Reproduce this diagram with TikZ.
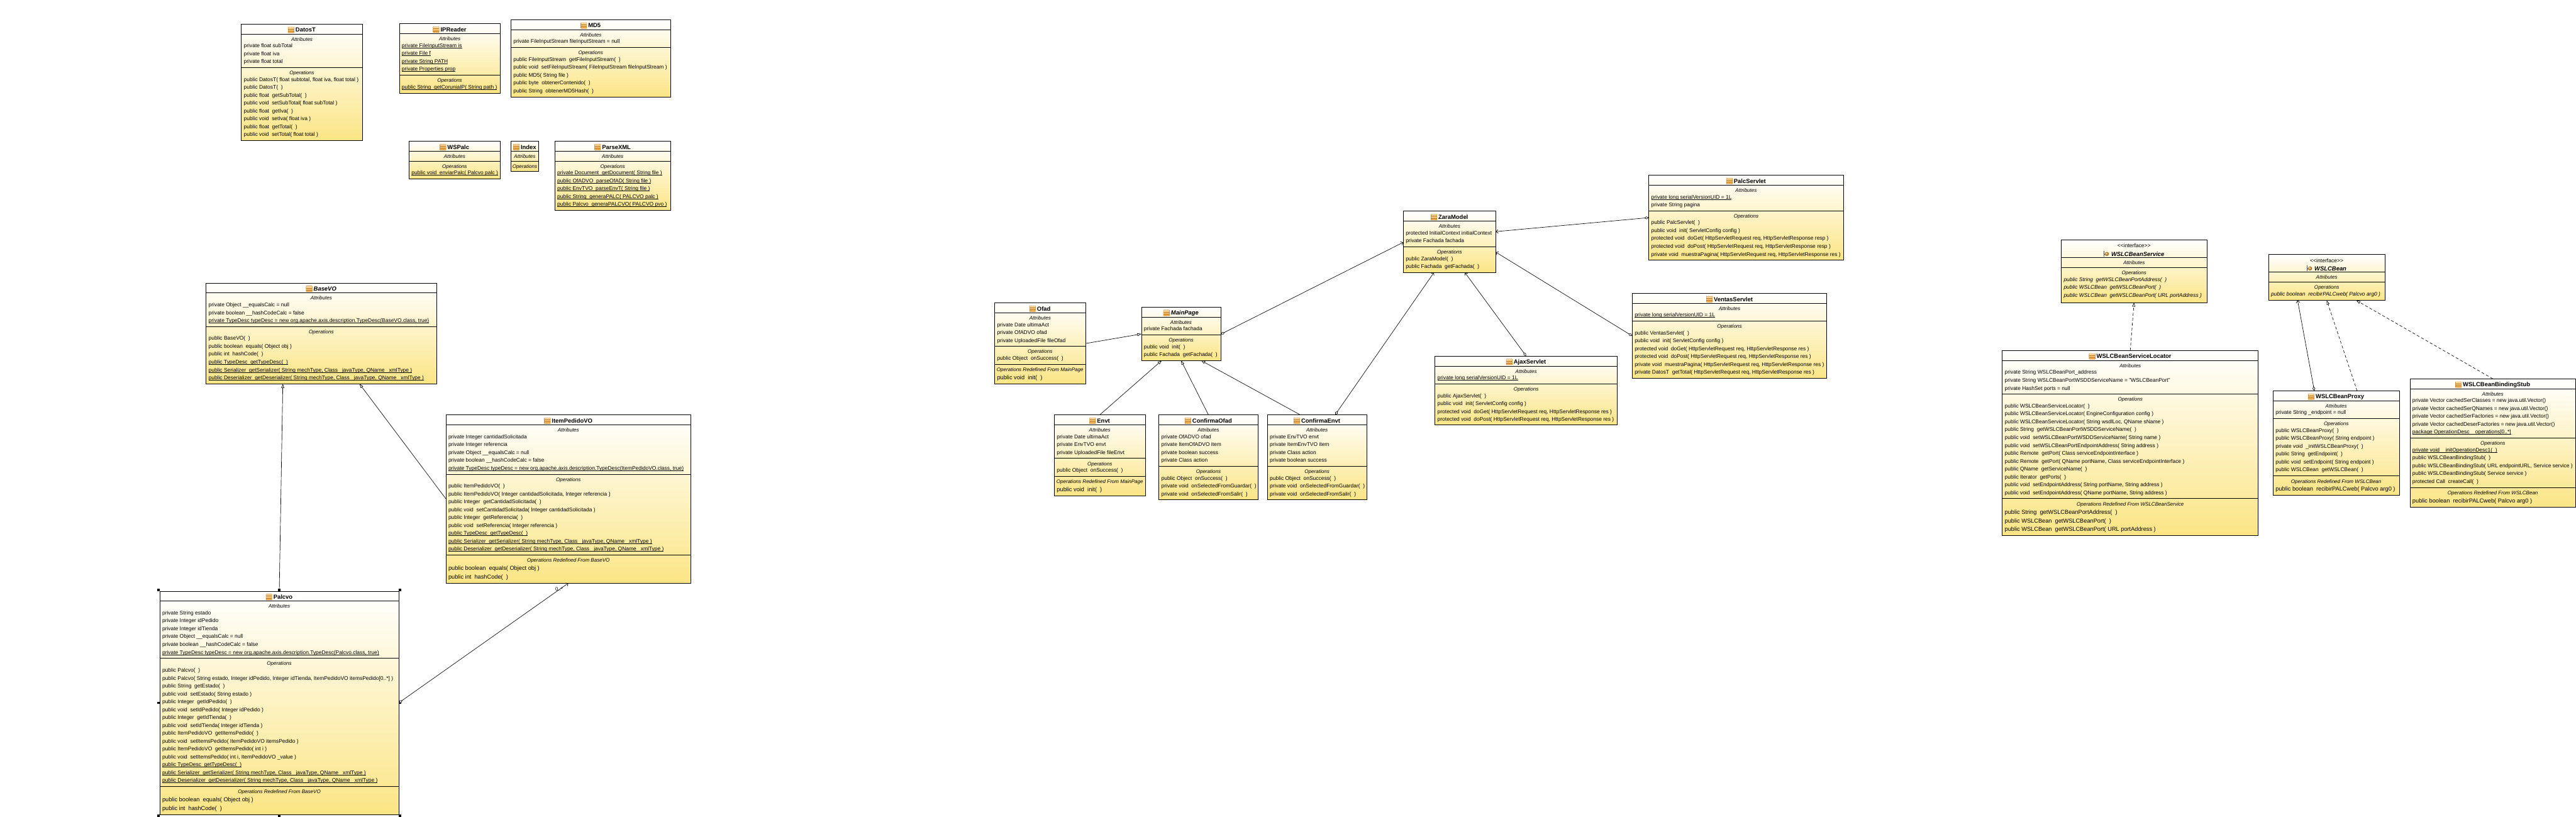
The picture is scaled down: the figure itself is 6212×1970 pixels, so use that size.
\documentclass[tikz,border=0pt]{standalone}
\usepackage{fontspec}
\setmainfont{Liberation Sans}
\usetikzlibrary{arrows.meta,calc}
\definecolor{clsbot}{HTML}{FBE585}
\definecolor{icotop}{HTML}{FCDDA8}
\definecolor{icobot}{HTML}{EFA23A}
\definecolor{icoln}{HTML}{B87A20}
\newcounter{tc}
\newcommand\ult[1]{\sbox0{#1}\rlap{\usebox0}\rule[-1.7pt]{\wd0}{0.9pt}}
\tikzset{
  classbox/.style={rectangle,draw=black,line width=1pt,top color=white,bottom color=clsbot,inner sep=0pt,outer sep=0pt},
  sepline/.style={draw=black,line width=1pt},
  titletext/.style={anchor=base,inner sep=0pt,outer sep=0pt,text height=10pt,text depth=0pt,font=\fontsize{14.3}{16}\selectfont\bfseries},
  labeltext/.style={anchor=base,inner sep=0pt,outer sep=0pt,font=\fontsize{12.2}{14}\selectfont\itshape},
  rowtext/.style={anchor=base west,inner sep=0pt,outer sep=0pt,font=\fontsize{12.8}{14}\selectfont},
  rowbig/.style={anchor=base west,inner sep=0pt,outer sep=0pt,font=\fontsize{14}{16}\selectfont},
  conn/.style={draw=black,line width=1pt},
  inh/.style={conn,-{Triangle[open,fill=white,length=10pt,width=7pt]}},
  aggr/.style={conn,{Diamond[open,fill=white,length=11pt,width=6.5pt]}-{Straight Barb[length=5pt,width=9pt]}},
  real/.style={conn,dash pattern=on 7pt off 5pt,-{Triangle[open,fill=white,length=10pt,width=7pt]}},
  handle/.style={rectangle,fill=black,inner sep=0pt,outer sep=0pt,minimum size=5.5pt}
}
\newcommand\umlclass[5]{%
  \node[classbox,minimum width=#4pt-#2pt,minimum height=#5pt-#3pt,anchor=north west] (#1) at (#2,#3) {};
  \def\xa{#2}\def\xb{#4}\def\ctop{#3}\def\cid{#1}%
  \pgfmathsetmacro\cx{(#2+#4)/2}%
  \pgfmathsetmacro\rx{#2+6}%
}
\newcommand\ctitle[1]{%
  \node[titletext] (\cid-t) at (\cx+9,\ctop+19.2) {#1};
  \path[draw=icoln,line width=0.5pt,top color=icotop,bottom color=icobot,rounded corners=0.8pt]
     ([shift={(-18pt,-7pt)}]\cid-t.west) rectangle ([shift={(-3.5pt,7pt)}]\cid-t.west);
  \draw[icoln,line width=0.5pt] ([shift={(-18pt,-2.4pt)}]\cid-t.west) -- ([shift={(-3.5pt,-2.4pt)}]\cid-t.west);
  \draw[icoln,line width=0.5pt] ([shift={(-18pt,2.4pt)}]\cid-t.west) -- ([shift={(-3.5pt,2.4pt)}]\cid-t.west);
}
\newcommand\ititle[1]{%
  \node[anchor=base,inner sep=0pt,outer sep=0pt,font=\fontsize{13}{15}\selectfont] (\cid-s) at (\cx,\ctop+19.2) {{<}\kern0pt{<}interface{>}\kern0pt{>}};
  \node[titletext] (\cid-t) at (\cx+9,\ctop+39) {\itshape #1};
  \draw[black!70,line width=0.6pt] ([shift={(-18pt,-7pt)}]\cid-t.west) -- ([shift={(-18pt,7pt)}]\cid-t.west);
  \draw[black!70,line width=0.6pt] ([shift={(-18pt,0pt)}]\cid-t.west) -- ([shift={(-15pt,0pt)}]\cid-t.west);
  \path[draw=icoln,line width=0.4pt,ball color=icobot] ([shift={(-10.7pt,0pt)}]\cid-t.west) circle (4.6pt);
}
\newcommand\comp[2]{%
  \draw[sepline] (\xa,#1) -- (\xb,#1);
  \stepcounter{tc}\node[labeltext] (n\arabic{tc}) at (\cx,#1+17) {#2};
  \pgfmathsetmacro\rowy{#1+33}%
}
\newcommand\compr[2]{%
  \draw[sepline] (\xa,#1) -- (\xb,#1);
  \stepcounter{tc}\node[labeltext] (n\arabic{tc}) at (\cx,#1+17.5) {#2};
  \pgfmathsetmacro\rowy{#1+37}%
}
\newcommand\rw[1]{%
  \stepcounter{tc}\node[rowtext] (n\arabic{tc}) at (\rx,\rowy) {#1};
  \pgfmathsetmacro\rowy{\rowy+19}%
}
\newcommand\rb[1]{%
  \stepcounter{tc}\node[rowbig] (n\arabic{tc}) at (\rx,\rowy) {#1};
  \pgfmathsetmacro\rowy{\rowy+21}%
}
\begin{document}
\begin{tikzpicture}[x=1pt,y=-1pt]
\useasboundingbox (0,0) rectangle (6212,1970);

\umlclass{datost}{582}{58}{874}{339}\ctitle{DatosT}
\comp{82}{Attributes}
\rw{private float subTotal}\rw{private float iva}\rw{private float total}
\comp{163}{Operations}
\rw{public DatosT( float subtotal, float iva, float total )}
\rw{public DatosT(~~)}
\rw{public float~~getSubTotal(~~)}
\rw{public void~~setSubTotal( float subTotal )}
\rw{public float~~getIva(~~)}
\rw{public void~~setIva( float iva )}
\rw{public float~~getTotal(~~)}
\rw{public void~~setTotal( float total )}

\umlclass{ipreader}{963}{57.3}{1206}{224.3}\ctitle{IPReader}
\comp{81.3}{Attributes}
\rw{\ult{private FileInputStream is}}\rw{\ult{private File f}}\rw{\ult{private String PATH}}\rw{\ult{private Properties prop}}
\comp{181.3}{Operations}
\rw{\ult{public String~~getCoruniaIP( String path )}}

\umlclass{md5}{1232}{47.3}{1617}{233.3}\ctitle{MD5}
\comp{71.3}{Attributes}
\rw{private FileInputStream fileInputStream = null}
\comp{114.3}{Operations}
\rw{public FileInputStream~~getFileInputStream(~~)}
\rw{public void~~setFileInputStream( FileInputStream fileInputStream )}
\rw{public MD5( String file )}
\rw{public byte~~obtenerContenido(~~)}
\rw{public String~~obtenerMD5Hash(~~)}

\umlclass{wspalc}{986.5}{340.3}{1206}{431.3}\ctitle{WSPalc}
\comp{364.3}{Attributes}
\comp{388.3}{Operations}
\rw{\ult{public void~~enviarPalc( Palcvo palc )}}

\umlclass{index}{1232}{340.3}{1299}{412.3}\ctitle{Index}
\comp{364.3}{Attributes}
\comp{388.3}{Operations}

\umlclass{parsexml}{1338}{340.3}{1617}{507.3}\ctitle{ParseXML}
\comp{364.3}{Attributes}
\comp{388.3}{Operations}
\rw{\ult{private Document~~getDocument( String file )}}
\rw{\ult{public OfADVO~~parseOfAD( String file )}}
\rw{\ult{public EnvTVO~~parseEnvT( String file )}}
\rw{\ult{public String~~generaPALC( PALCVO palc )}}
\rw{\ult{public Palcvo~~generaPALCVO( PALCVO pvo )}}

\umlclass{basevo}{497}{682.3}{1052.5}{925.7}\ctitle{\itshape BaseVO}
\comp{706.3}{Attributes}
\rw{private Object \_\_equalsCalc = null}
\rw{private boolean \_\_hashCodeCalc = false}
\rw{\ult{private TypeDesc typeDesc = new org.apache.axis.description.TypeDesc(BaseVO.class, true)}}
\comp{787.3}{Operations}
\rw{public BaseVO(~~)}
\rw{public boolean~~equals( Object obj )}
\rw{public int~~hashCode(~~)}
\rw{\ult{public TypeDesc~~getTypeDesc(~~)}}
\rw{\ult{public Serializer~~getSerializer( String mechType, Class \_javaType, QName \_xmlType )}}
\rw{\ult{public Deserializer~~getDeserializer( String mechType, Class \_javaType, QName \_xmlType )}}

\umlclass{itempedido}{1075.4}{1000.3}{1665.8}{1406.3}\ctitle{ItemPedidoVO}
\comp{1024.3}{Attributes}
\rw{private Integer cantidadSolicitada}
\rw{private Integer referencia}
\rw{private Object \_\_equalsCalc = null}
\rw{private boolean \_\_hashCodeCalc = false}
\rw{\ult{private TypeDesc typeDesc = new org.apache.axis.description.TypeDesc(ItemPedidoVO.class, true)}}
\comp{1143.3}{Operations}
\rw{public ItemPedidoVO(~~)}
\rw{public ItemPedidoVO( Integer cantidadSolicitada, Integer referencia )}
\rw{public Integer~~getCantidadSolicitada(~~)}
\rw{public void~~setCantidadSolicitada( Integer cantidadSolicitada )}
\rw{public Integer~~getReferencia(~~)}
\rw{public void~~setReferencia( Integer referencia )}
\rw{\ult{public TypeDesc~~getTypeDesc(~~)}}
\rw{\ult{public Serializer~~getSerializer( String mechType, Class \_javaType, QName \_xmlType )}}
\rw{\ult{public Deserializer~~getDeserializer( String mechType, Class \_javaType, QName \_xmlType )}}
\compr{1338.3}{Operations Redefined From BaseVO}
\rb{public boolean~~equals( Object obj )}
\rb{public int~~hashCode(~~)}

\umlclass{palcvo}{385.4}{1425.4}{961.5}{1964.3}\ctitle{Palcvo}
\comp{1449.3}{Attributes}
\rw{private String estado}
\rw{private Integer idPedido}
\rw{private Integer idTienda}
\rw{private Object \_\_equalsCalc = null}
\rw{private boolean \_\_hashCodeCalc = false}
\rw{\ult{private TypeDesc typeDesc = new org.apache.axis.description.TypeDesc(Palcvo.class, true)}}
\comp{1587.5}{Operations}
\rw{public Palcvo(~~)}
\rw{public Palcvo( String estado, Integer idPedido, Integer idTienda, ItemPedidoVO itemsPedido[0..*] )}
\rw{public String~~getEstado(~~)}
\rw{public void~~setEstado( String estado )}
\rw{public Integer~~getIdPedido(~~)}
\rw{public void~~setIdPedido( Integer idPedido )}
\rw{public Integer~~getIdTienda(~~)}
\rw{public void~~setIdTienda( Integer idTienda )}
\rw{public ItemPedidoVO~~getItemsPedido(~~)}
\rw{public void~~setItemsPedido( ItemPedidoVO itemsPedido )}
\rw{public ItemPedidoVO~~getItemsPedido( int i )}
\rw{public void~~setItemsPedido( int i, ItemPedidoVO \_value )}
\rw{\ult{public TypeDesc~~getTypeDesc(~~)}}
\rw{\ult{public Serializer~~getSerializer( String mechType, Class \_javaType, QName \_xmlType )}}
\rw{\ult{public Deserializer~~getDeserializer( String mechType, Class \_javaType, QName \_xmlType )}}
\compr{1896.4}{Operations Redefined From BaseVO}
\rb{public boolean~~equals( Object obj )}
\rb{public int~~hashCode(~~)}

\umlclass{ofad}{2398.6}{730.3}{2617.6}{925.3}\ctitle{Ofad}
\comp{754.3}{Attributes}
\rw{private Date ultimaAct}\rw{private OfADVO ofad}\rw{private UploadedFile fileOfad}
\comp{835.3}{Operations}
\rw{public Object~~onSuccess(~~)}
\compr{878.3}{Operations Redefined From MainPage}
\rb{public void~~init(~~)}

\umlclass{mainpage}{2752.5}{740.3}{2943.7}{869.3}\ctitle{\itshape MainPage}
\comp{764.3}{Attributes}
\rw{private Fachada fachada}
\comp{807.3}{Operations}
\rw{public void~~init(~~)}
\rw{public Fachada~~getFachada(~~)}

\umlclass{envt}{2542.6}{1000.3}{2761.6}{1195.3}\ctitle{Envt}
\comp{1024.3}{Attributes}
\rw{private Date ultimaAct}\rw{private EnvTVO envt}\rw{private UploadedFile fileEnvt}
\comp{1105.3}{Operations}
\rw{public Object~~onSuccess(~~)}
\compr{1148.3}{Operations Redefined From MainPage}
\rb{public void~~init(~~)}

\umlclass{confofad}{2794.6}{1000.3}{3033.5}{1205.3}\ctitle{ConfirmaOfad}
\comp{1024.3}{Attributes}
\rw{private OfADVO ofad}\rw{private ItemOfADVO item}\rw{private boolean success}\rw{private Class action}
\comp{1124.3}{Operations}
\rw{public Object~~onSuccess(~~)}
\rw{private void~~onSelectedFromGuardar(~~)}
\rw{private void~~onSelectedFromSalir(~~)}

\umlclass{confenvt}{3056.3}{1000.3}{3295.5}{1205.3}\ctitle{ConfirmaEnvt}
\comp{1024.3}{Attributes}
\rw{private EnvTVO envt}\rw{private ItemEnvTVO item}\rw{private Class action}\rw{private boolean success}
\comp{1124.3}{Operations}
\rw{public Object~~onSuccess(~~)}
\rw{private void~~onSelectedFromGuardar(~~)}
\rw{private void~~onSelectedFromSalir(~~)}

\umlclass{zaramodel}{3384}{509.3}{3607}{657.4}\ctitle{ZaraModel}
\comp{533.4}{Attributes}
\rw{protected InitialContext initialContext}\rw{private Fachada fachada}
\comp{595.4}{Operations}
\rw{public ZaraModel(~~)}
\rw{public Fachada~~getFachada(~~)}

\umlclass{palcservlet}{3976}{422.3}{4445.4}{627.3}\ctitle{PalcServlet}
\comp{446.3}{Attributes}
\rw{\ult{private long serialVersionUID = 1L}}
\rw{private String pagina}
\comp{508.3}{Operations}
\rw{public PalcServlet(~~)}
\rw{public void~~init( ServletConfig config )}
\rw{protected void~~doGet( HttpServletRequest req, HttpServletResponse resp )}
\rw{protected void~~doPost( HttpServletRequest req, HttpServletResponse resp )}
\rw{private void~~muestraPagina( HttpServletRequest req, HttpServletResponse res )}

\umlclass{ventas}{3936}{707.3}{4405.4}{911.8}\ctitle{VentasServlet}
\comp{731.3}{Attributes}
\rw{\ult{private long serialVersionUID = 1L}}
\comp{774.3}{Operations}
\rw{public VentasServlet(~~)}
\rw{public void~~init( ServletConfig config )}
\rw{protected void~~doGet( HttpServletRequest req, HttpServletResponse res )}
\rw{protected void~~doPost( HttpServletRequest req, HttpServletResponse res )}
\rw{private void~~muestraPagina( HttpServletRequest req, HttpServletResponse res )}
\rw{private DatosT~~getTotal( HttpServletRequest req, HttpServletResponse res )}

\umlclass{ajax}{3460.5}{858.5}{3900}{1024.8}\ctitle{AjaxServlet}
\comp{882.5}{Attributes}
\rw{\ult{private long serialVersionUID = 1L}}
\comp{925.5}{Operations}
\rw{public AjaxServlet(~~)}
\rw{public void~~init( ServletConfig config )}
\rw{protected void~~doGet( HttpServletRequest req, HttpServletResponse res )}
\rw{protected void~~doPost( HttpServletRequest req, HttpServletResponse res )}

\umlclass{wsservice}{4970.7}{578.3}{5321.7}{729.3}\ititle{WSLCBeanService}
\comp{621.3}{Attributes}
\comp{645.3}{Operations}
\rw{\itshape public String~~getWSLCBeanPortAddress(~~)}
\rw{\itshape public WSLCBean~~getWSLCBeanPort(~~)}
\rw{\itshape public WSLCBean~~getWSLCBeanPort( URL portAddress )}

\umlclass{wsbean}{5470.7}{613.3}{5751}{724.3}\ititle{WSLCBean}
\comp{656.3}{Attributes}
\comp{680.3}{Operations}
\rw{\itshape public boolean~~recibirPALCweb( Palcvo arg0 )}

\umlclass{locator}{4828.4}{845}{5445.7}{1291.3}\ctitle{WSLCBeanServiceLocator}
\comp{869.3}{Attributes}
\rw{private String WSLCBeanPort\_address}
\rw{private String WSLCBeanPortWSDDServiceName = "WSLCBeanPort"}
\rw{private HashSet ports = null}
\comp{950.3}{Operations}
\rw{public WSLCBeanServiceLocator(~~)}
\rw{public WSLCBeanServiceLocator( EngineConfiguration config )}
\rw{public WSLCBeanServiceLocator( String wsdlLoc, QName sName )}
\rw{public String~~getWSLCBeanPortWSDDServiceName(~~)}
\rw{public void~~setWSLCBeanPortWSDDServiceName( String name )}
\rw{public void~~setWSLCBeanPortEndpointAddress( String address )}
\rw{public Remote~~getPort( Class serviceEndpointInterface )}
\rw{public Remote~~getPort( QName portName, Class serviceEndpointInterface )}
\rw{public QName~~getServiceName(~~)}
\rw{public Iterator~~getPorts(~~)}
\rw{public void~~setEndpointAddress( String portName, String address )}
\rw{public void~~setEndpointAddress( QName portName, String address )}
\compr{1202.3}{Operations Redefined From WSLCBeanService}
\rb{public String~~getWSLCBeanPortAddress(~~)}
\rb{public WSLCBean~~getWSLCBeanPort(~~)}
\rb{public WSLCBean~~getWSLCBeanPort( URL portAddress )}

\umlclass{proxy}{5481.6}{942.3}{5785.7}{1194.3}\ctitle{WSLCBeanProxy}
\comp{966.3}{Attributes}
\rw{private String \_endpoint = null}
\comp{1009.3}{Operations}
\rw{public WSLCBeanProxy(~~)}
\rw{public WSLCBeanProxy( String endpoint )}
\rw{private void~~\_initWSLCBeanProxy(~~)}
\rw{public String~~getEndpoint(~~)}
\rw{public void~~setEndpoint( String endpoint )}
\rw{public WSLCBean~~getWSLCBean(~~)}
\compr{1147.3}{Operations Redefined From WSLCBean}
\rb{public boolean~~recibirPALCweb( Palcvo arg0 )}

\umlclass{stub}{5811.6}{913.3}{6211}{1222.3}\ctitle{WSLCBeanBindingStub}
\comp{937.3}{Attributes}
\rw{private Vector cachedSerClasses = new java.util.Vector()}
\rw{private Vector cachedSerQNames = new java.util.Vector()}
\rw{private Vector cachedSerFactories = new java.util.Vector()}
\rw{private Vector cachedDeserFactories = new java.util.Vector()}
\rw{\ult{package OperationDesc~~\_operations[0..*]}}
\comp{1056.3}{Operations}
\rw{\ult{private void~~\_initOperationDesc1(~~)}}
\rw{public WSLCBeanBindingStub(~~)}
\rw{public WSLCBeanBindingStub( URL endpointURL, Service service )}
\rw{public WSLCBeanBindingStub( Service service )}
\rw{protected Call~~createCall(~~)}
\compr{1175.3}{Operations Redefined From WSLCBean}
\rb{public boolean~~recibirPALCweb( Palcvo arg0 )}

% selection handles on Palcvo
\node[handle] (h1) at ([shift={(-3.4pt,3pt)}]palcvo.north west) {};
\node[handle] (h2) at ([shift={(0pt,3pt)}]palcvo.north) {};
\node[handle] (h3) at ([shift={(3.4pt,3pt)}]palcvo.north east) {};
\node[handle] (h4) at ([shift={(-3.4pt,0pt)}]palcvo.west) {};
\node[handle] (h5) at ([shift={(3.4pt,0pt)}]palcvo.east) {};
\node[handle] (h6) at ([shift={(-3.4pt,-2.7pt)}]palcvo.south west) {};
\node[handle] (h7) at ([shift={(0pt,-2.7pt)}]palcvo.south) {};
\node[handle] (h8) at ([shift={(3.4pt,-2.7pt)}]palcvo.south east) {};

% connectors
\draw[inh] (palcvo.north) -- ([xshift=185pt]basevo.south west);
\draw[inh] ([yshift=-202.7pt]itempedido.north west) -- ([xshift=370pt]basevo.south west);
\draw[aggr] (palcvo.east) -- ([xshift=295pt]itempedido.south west);
\node[anchor=center,inner sep=0pt,font=\fontsize{12}{14}\selectfont] (mult) at ([shift={(273pt,-14pt)}]itempedido.south west) {0..*};

\draw[inh] ([yshift=-98pt]ofad.north east) -- ([yshift=-65pt]mainpage.north west);
\draw[inh] (envt.north) -- ([xshift=49pt]mainpage.south west);
\draw[inh] (confofad.north) -- (mainpage.south);
\draw[inh] ([xshift=79.2pt]confenvt.north west) -- ([xshift=143.8pt]mainpage.south west);

\draw[aggr] ([yshift=-65.7pt]mainpage.north east) -- ([yshift=-75pt]zaramodel.north west);
\draw[aggr] ([xshift=163.3pt]confenvt.north west) -- ([xshift=73.7pt]zaramodel.south west);
\draw[aggr] (ajax.north) -- ([xshift=148.7pt]zaramodel.south west);
\draw[aggr] ([yshift=-102.7pt]ventas.north west) -- ([yshift=-98.7pt]zaramodel.north east);
\draw[aggr] ([yshift=-102.5pt]palcservlet.north west) -- ([yshift=-49.2pt]zaramodel.north east);

\draw[real] (locator.north) -- (wsservice.south);
\draw[aggr] ([xshift=99.3pt]proxy.north west) -- ([xshift=69.9pt]wsbean.south west);
\draw[real] ([xshift=202.4pt]proxy.north west) -- (wsbean.south);
\draw[real] (stub.north) -- ([xshift=211.3pt]wsbean.south west);
\end{tikzpicture}
\end{document}
